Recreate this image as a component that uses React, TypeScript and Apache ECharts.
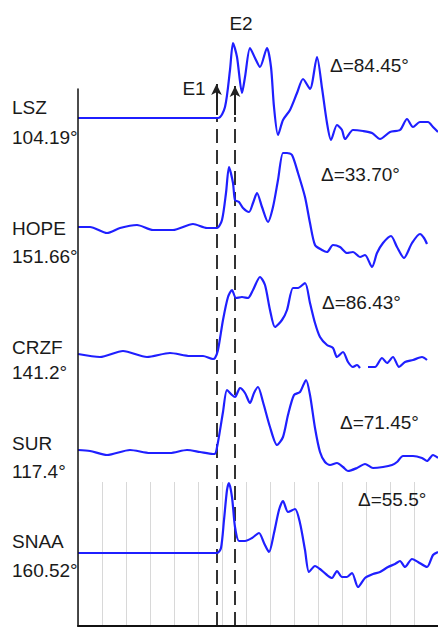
import { useEffect, useRef } from 'react';
import * as echarts from 'echarts';

// Station names, epicentral distances and Δ labels
const stations = ['LSZ', 'HOPE', 'CRZF', 'SUR', 'SNAA'];
const distances = ['104.19°', '151.66°', '141.2°', '117.4°', '160.52°'];
const deltas = ['Δ=84.45°', 'Δ=33.70°', 'Δ=86.43°', 'Δ=71.45°', 'Δ=55.5°'];

// Trace baselines (vertical offsets on the y axis)
const baselines = [508, 399, 271, 175, 73];

// Arrival times of E1 and E2 (x axis units)
const arrivalE1 = 138.5;
const arrivalE2 = 157;

// Waveforms: [time, amplitude]
const lsz: (number | null)[][] = [[0,0],[140,0],[147,11],[152,48],[155,75],[159,61],[164,25],[167,41],[172,70],[177,60],[182,51],[189,70],[193,51],[196,11],[200,-17],[205,-2],[212,8],[219,25],[225,39],[232,29],[239,61],[244,30],[249,-5],[253,-22],[259,-7],[264,-12],[267,-21],[275,-12],[285,-13],[294,-15],[302,-21],[312,-14],[322,-12],[329,-1],[335,-9],[342,-4],[350,-4],[355,-9],[360,-14]];
const hope: (number | null)[][] = [[0,0],[12,0],[29,-6],[42,-1],[59,2],[75,-3],[95,-3],[115,3],[129,-1],[139,-1],[144,7],[148,34],[151,60],[155,44],[157,27],[161,25],[165,19],[171,15],[175,24],[179,34],[184,20],[190,5],[195,20],[200,47],[205,74],[209,74],[214,72],[220,54],[227,30],[232,4],[237,-18],[244,-23],[249,-25],[255,-18],[262,-20],[269,-26],[275,-25],[282,-30],[287,-28],[294,-40],[299,-26],[305,-16],[313,-9],[319,-20],[326,-31],[334,-16],[342,-7],[346,-11],[349,-17]];
const crzf: (number | null)[][] = [[0,1],[22,-2],[45,4],[69,-2],[92,2],[112,-1],[125,-1],[135,-4],[137,-3],[140,5],[145,35],[150,58],[154,65],[158,57],[164,58],[170,57],[175,65],[182,78],[187,70],[192,45],[197,28],[204,35],[209,45],[215,67],[220,67],[227,72],[232,52],[237,32],[242,18],[249,10],[255,7],[259,-2],[265,3],[270,-7],[275,-12],[279,-10],[282,-13],[286,null],[290,-12],[297,-12],[304,-3],[309,-8],[315,-2],[321,-12],[327,-7],[335,-5],[344,-2],[349,-5]];
const sur: (number | null)[][] = [[0,1],[12,0],[29,-4],[52,1],[72,-2],[92,-2],[109,1],[122,-1],[135,-3],[137,-3],[140,9],[145,39],[149,61],[154,56],[157,54],[162,63],[167,58],[172,48],[176,58],[180,64],[185,49],[192,24],[199,6],[205,14],[210,36],[216,56],[222,59],[228,71],[232,56],[237,23],[242,-1],[247,-11],[252,-14],[259,-12],[265,-16],[270,-20],[279,-17],[287,-13],[295,-17],[305,-16],[314,-14],[319,-11],[325,-5],[335,-5],[344,-7],[349,-10],[355,-4],[360,-7]];
const snaa: (number | null)[][] = [[0,0],[139,0],[143,5],[146,33],[149,63],[151,70],[154,56],[157,26],[161,12],[167,12],[174,15],[181,20],[186,10],[191,1],[196,20],[201,43],[205,52],[210,41],[217,44],[222,30],[227,3],[231,-19],[237,-13],[242,-16],[249,-22],[254,-25],[259,-18],[264,-24],[269,-24],[274,-20],[280,-34],[287,-25],[295,-21],[302,-19],[310,-14],[317,-11],[322,-8],[327,-14],[334,-6],[340,-9],[349,-14],[355,-2],[360,1]];

const traces = [lsz, hope, crzf, sur, snaa];

const FONT = "'Liberation Sans', Arial, Helvetica, sans-serif";
const TEXT_COLOR = '#1a1a1a';
const BLUE = '#1f1fff';

export default function App() {
  const ref = useRef<HTMLDivElement>(null);

  useEffect(() => {
    if (!ref.current) return;
    const chart = echarts.init(ref.current, null, { renderer: 'svg' });

    const nameY = [107, 228.5, 347.5, 443, 541];
    const distY = [137.5, 256, 372.5, 471, 570.5];
    const deltaX = [330, 321, 322, 340, 358];
    const deltaY = [65.5, 174, 302.5, 422.5, 499];

    const txt = (text: string, x: number, y: number, size: number, align = 'left') => ({
      type: 'text',
      x,
      y,
      z: 10,
      style: {
        text,
        fill: TEXT_COLOR,
        font: `${size}px ${FONT}`,
        textAlign: align,
        textVerticalAlign: 'middle',
        align,
        verticalAlign: 'middle',
      },
    });

    const graphics: any[] = [];
    stations.forEach((s, i) => {
      graphics.push(txt(s, 12, nameY[i], 19));
      graphics.push(txt(distances[i], 12, distY[i], 19));
      graphics.push(txt(deltas[i], deltaX[i], deltaY[i], 19));
    });
    graphics.push(txt('E1', 194, 88, 19, 'center'));
    graphics.push(txt('E2', 241, 23, 19, 'center'));

    const dashStyle = { color: '#333', width: 2, type: [14, 7] as any };
    const solidStyle = { color: '#222', width: 2, type: 'solid' as any };

    const traceSeries = traces.map((tr, i) => ({
      type: 'line',
      name: stations[i],
      xAxisIndex: 2,
      yAxisIndex: 2,
      data: tr.map(([t, a]) => (a === null ? [t, '-'] : [t, (a as number) + baselines[i]])),
      showSymbol: false,
      symbol: 'none',
      smooth: 0.25,
      clip: false,
      z: 5,
      lineStyle: { color: BLUE, width: 2.2 },
    }));

    const hiddenAxis = {
      axisLine: { show: false }, axisTick: { show: false }, axisLabel: { show: false },
      splitLine: { show: false },
    };

    const option: any = {
      animation: false,
      backgroundColor: '#fff',
      grid: [
        { left: 78, right: 0, top: 89, bottom: 4 },
        { left: 78, right: 0, top: 482, bottom: 4 },
        { left: 78, right: 0, top: 0, bottom: 4 },
      ],
      xAxis: [
        {
          type: 'value', gridIndex: 0, min: 0, max: 360,
          axisLine: { show: true, lineStyle: { color: '#111', width: 2 } },
          axisTick: { show: false }, axisLabel: { show: false }, splitLine: { show: false },
          z: 6,
        },
        {
          type: 'value', gridIndex: 1, min: 0, max: 360, interval: 24,
          axisLine: { show: false }, axisTick: { show: false }, axisLabel: { show: false },
          splitLine: { show: true, lineStyle: { color: '#d8d8d8', width: 1 } },
        },
        { type: 'value', gridIndex: 2, min: 0, max: 360, ...hiddenAxis },
      ],
      yAxis: [
        {
          type: 'value', gridIndex: 0, min: 0, max: 537,
          axisLine: { show: true, lineStyle: { color: '#111', width: 1.5 } },
          axisTick: { show: false }, axisLabel: { show: false }, splitLine: { show: false },
          z: 6,
        },
        {
          type: 'value', gridIndex: 1, min: 0, max: 1, show: false,
          splitLine: { show: false },
        },
        { type: 'value', gridIndex: 2, min: 0, max: 626, ...hiddenAxis },
      ],
      graphic: graphics,
      series: [
        ...traceSeries,
        { type: 'line', xAxisIndex: 0, yAxisIndex: 0, data: [] },
        { type: 'line', xAxisIndex: 1, yAxisIndex: 1, data: [] },
        {
          type: 'line',
          xAxisIndex: 2,
          yAxisIndex: 2,
          data: [[0, 0]],
          showSymbol: false,
          symbol: 'none',
          lineStyle: { width: 0 },
          clip: false,
          z: 4,
          markLine: {
            silent: true,
            animation: false,
            label: { show: false },
            data: [
              [
                { coord: [arrivalE1, 0], symbol: 'none', lineStyle: dashStyle },
                { coord: [arrivalE1, 509], symbol: 'none' },
              ],
              [
                { coord: [arrivalE2, 0], symbol: 'none', lineStyle: dashStyle },
                { coord: [arrivalE2, 509], symbol: 'none' },
              ],
              [
                { coord: [arrivalE1, 511], symbol: 'none', lineStyle: solidStyle },
                { coord: [arrivalE1, 542], symbol: 'arrow', symbolSize: [8, 11] },
              ],
              [
                { coord: [arrivalE2, 511], symbol: 'none', lineStyle: solidStyle },
                { coord: [arrivalE2, 540], symbol: 'arrow', symbolSize: [8, 11] },
              ],
            ],
          },
        },
      ],
    };

    chart.setOption(option);
    return () => chart.dispose();
  }, []);

  return (
    <div
      ref={ref}
      style={{ position: 'absolute', left: 0, top: 0, width: 438, height: 630, background: '#fff' }}
    />
  );
}
